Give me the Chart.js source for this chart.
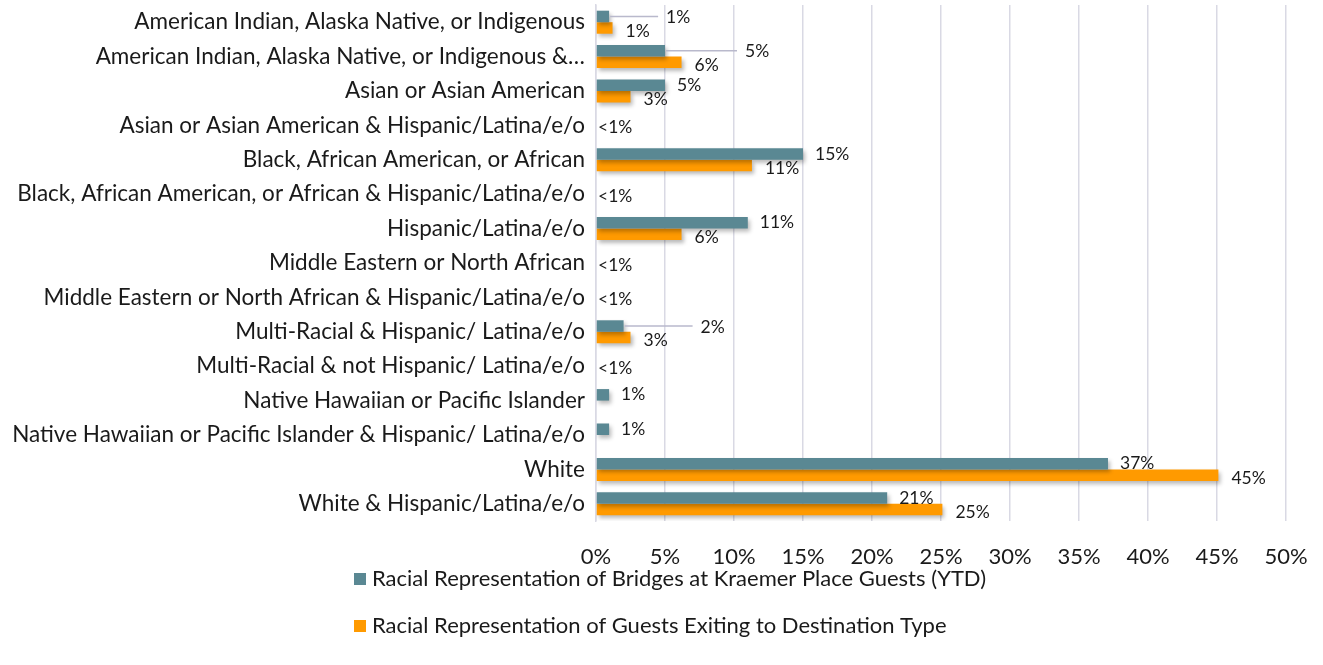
<!DOCTYPE html>
<html>
<head>
<meta charset="utf-8">
<script src="https://cdn.jsdelivr.net/npm/chart.js@4.4.1/dist/chart.umd.min.js"></script>
<style>
  html, body { margin: 0; padding: 0; background: #ffffff; }
  #wrap { width: 1323px; height: 665px; position: relative; }
</style>
</head>
<body>
<div id="wrap"><canvas id="c" width="1323" height="665"></canvas></div>
<script>
// ---- data ----
const categories = [
  "American Indian, Alaska Native, or Indigenous",
  "American Indian, Alaska Native, or Indigenous &\u2026",
  "Asian or Asian American",
  "Asian or Asian American & Hispanic/Latina/e/o",
  "Black, African American, or African",
  "Black, African American, or African & Hispanic/Latina/e/o",
  "Hispanic/Latina/e/o",
  "Middle Eastern or North African",
  "Middle Eastern or North African & Hispanic/Latina/e/o",
  "Multi-Racial & Hispanic/ Latina/e/o",
  "Multi-Racial & not Hispanic/ Latina/e/o",
  "Native Hawaiian or Pacific Islander",
  "Native Hawaiian or Pacific Islander & Hispanic/ Latina/e/o",
  "White",
  "White & Hispanic/Latina/e/o"
];
const seriesNames = [
  "Racial Representation of Bridges at Kraemer Place Guests (YTD)",
  "Racial Representation of Guests Exiting to Destination Type"
];
const bridgesValues = [0.95, 5, 5, 0, 15, 0, 11, 0, 0, 2, 0, 0.95, 0.95, 37.1, 21.1];
const exitingValues = [1.2, 6.2, 2.5, 0, 11.3, 0, 6.2, 0, 0, 2.5, 0, 0, 0, 45.1, 25.1];
const bridgesLabels = ["1%", "5%", "5%", "<1%", "15%", "<1%", "11%", "<1%", "<1%", "2%", "<1%", "1%", "1%", "37%", "21%"];
const exitingLabels = ["1%", "6%", "3%", null, "11%", null, "6%", null, null, "3%", null, null, null, "45%", "25%"];
const xTicks = [0, 5, 10, 15, 20, 25, 30, 35, 40, 45, 50];

// ---- styles ----
const FONT = "Lato, 'Open Sans', sans-serif";
const TEAL = "#5A8893";
const ORANGE = "#FF9A00";
const GRID = "#D9D9E4";
const TEXT = "#1a1a1a";
// label nudges for rows that Excel moved out with a leader line
const leaderRows = { 0: 57, 1: 80, 9: 77 };

const shadowPlugin = {
  id: 'barShadow',
  beforeDatasetsDraw(chart) {
    const ctx = chart.ctx;
    ctx.save();
    ctx.shadowColor = 'rgba(0,0,0,0.28)';
    ctx.shadowBlur = 4;
    ctx.shadowOffsetX = 2;
    ctx.shadowOffsetY = 3;
  },
  afterDatasetsDraw(chart) {
    chart.ctx.restore();
  }
};

const labelPlugin = {
  id: 'valueLabels',
  afterDatasetsDraw(chart) {
    const ctx = chart.ctx;
    const xs = chart.scales.x, ys = chart.scales.y;
    const m0 = chart.getDatasetMeta(0), m1 = chart.getDatasetMeta(1);
    ctx.save();
    ctx.font = "17.5px " + FONT;
    ctx.fillStyle = TEXT;
    ctx.textBaseline = 'middle';
    ctx.textAlign = 'left';
    for (let i = 0; i < categories.length; i++) {
      const b0 = m0.data[i], b1 = m1.data[i];
      if (bridgesValues[i] === 0 && exitingValues[i] === 0) {
        ctx.fillText(bridgesLabels[i], xs.getPixelForValue(0) + 2, ys.getPixelForValue(i) + 2);
        continue;
      }
      if (bridgesLabels[i] && bridgesValues[i] > 0) {
        let dx = 12, dy = 0;
        if (leaderRows[i] !== undefined) {
          dx = leaderRows[i];
          ctx.save();
          ctx.strokeStyle = '#B9B9CC';
          ctx.lineWidth = 1.5;
          ctx.beginPath();
          ctx.moveTo(b0.x + 1, b0.y);
          ctx.lineTo(b0.x + dx - 8, b0.y);
          ctx.stroke();
          ctx.restore();
          dy = 1;
        }
        ctx.fillText(bridgesLabels[i], b0.x + dx, b0.y + dy);
      }
      if (exitingLabels[i] && exitingValues[i] > 0) {
        ctx.fillText(exitingLabels[i], b1.x + 13, b1.y + 3);
      }
    }
    ctx.restore();
  }
};

const legendPlugin = {
  id: 'stackedLegend',
  afterDraw(chart) {
    const ctx = chart.ctx;
    const items = [
      { text: seriesNames[0], color: TEAL, y: 578 },
      { text: seriesNames[1], color: ORANGE, y: 625 }
    ];
    ctx.save();
    ctx.font = "22px " + FONT;
    ctx.fillStyle = TEXT;
    ctx.textBaseline = 'middle';
    ctx.textAlign = 'left';
    items.forEach(it => {
      ctx.fillStyle = it.color;
      ctx.fillRect(354, it.y - 5, 12, 12);
      ctx.fillStyle = TEXT;
      ctx.fillText(it.text, 372, it.y + 1);
    });
    ctx.restore();
  }
};

new Chart(document.getElementById('c'), {
  type: 'bar',
  data: {
    labels: categories,
    datasets: [
      { label: seriesNames[0], data: bridgesValues, backgroundColor: TEAL, borderWidth: 0,
        categoryPercentage: 0.67, barPercentage: 1.0 },
      { label: seriesNames[1], data: exitingValues, backgroundColor: ORANGE, borderWidth: 0,
        categoryPercentage: 0.67, barPercentage: 1.0 }
    ]
  },
  options: {
    indexAxis: 'y',
    responsive: false,
    animation: false,
    layout: { padding: { top: 5, right: 37, bottom: 100, left: 0 } },
    plugins: {
      legend: { display: false },
      tooltip: { enabled: false }
    },
    scales: {
      x: {
        min: 0, max: 50,
        afterBuildTicks(scale) { scale.ticks = xTicks.map(v => ({ value: v })); },
        afterFit(scale) { scale.height = 44; scale.paddingLeft = 0; scale.paddingRight = 0; },
        grid: { color: GRID, lineWidth: 1.5, drawTicks: false },
        border: { display: false },
        ticks: {
          padding: 23,
          color: TEXT,
          maxRotation: 0,
          font: { family: FONT, size: 22 },
          callback: v => v + '%'
        }
      },
      y: {
        afterFit(scale) { scale.width = 596; scale.paddingTop = 0; scale.paddingBottom = 0; },
        grid: { display: false, drawTicks: false },
        border: { display: true, color: GRID, width: 1.5 },
        ticks: {
          padding: 11,
          color: TEXT,
          autoSkip: false,
          font: { family: FONT, size: 22.5 }
        }
      }
    }
  },
  plugins: [shadowPlugin, labelPlugin, legendPlugin]
});
</script>
</body>
</html>
